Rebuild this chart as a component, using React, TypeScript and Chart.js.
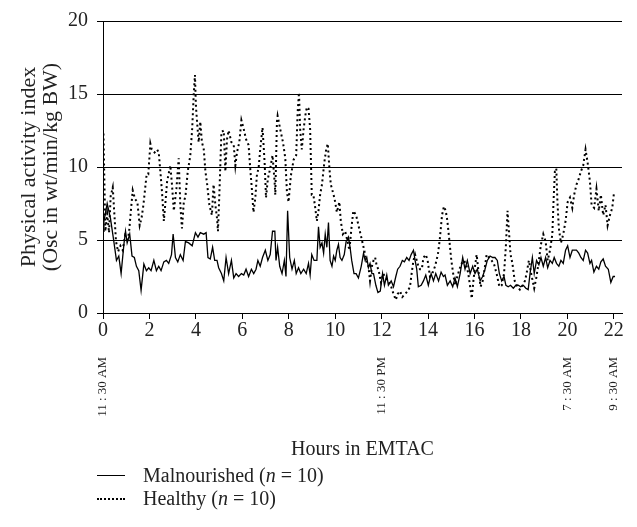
import React, { useEffect, useRef } from "react";
import { Chart, registerables } from "chart.js";

Chart.register(...registerables);

const malHours = [
  0.0, 0.04, 0.18, 0.32, 0.44, 0.58, 0.68, 0.78, 0.9, 0.97, 1.04, 1.15, 1.25, 1.35, 1.44, 1.54, 1.64, 1.76, 1.87, 1.97,
  2.07, 2.19, 2.3, 2.4, 2.5, 2.62, 2.73, 2.83, 2.95, 3.02, 3.12, 3.22, 3.33, 3.45, 3.55, 3.69, 3.84, 3.98, 4.09, 4.19,
  4.34, 4.44, 4.52, 4.62, 4.72, 4.81, 4.91, 4.98, 5.1, 5.2, 5.3, 5.41, 5.53, 5.63, 5.73, 5.84, 5.96, 6.06, 6.16, 6.27,
  6.39, 6.49, 6.59, 6.67, 6.77, 6.87, 6.99, 7.1, 7.2, 7.3, 7.4, 7.45, 7.52, 7.61, 7.71, 7.81, 7.88, 7.95, 8.04, 8.14,
  8.24, 8.32, 8.42, 8.52, 8.64, 8.75, 8.85, 8.92, 8.99, 9.09, 9.21, 9.28, 9.35, 9.43, 9.5, 9.57, 9.64, 9.71, 9.78, 9.86,
  9.93, 10.0, 10.07, 10.14, 10.21, 10.29, 10.39, 10.47, 10.57, 10.64, 10.71, 10.81, 10.9, 11.0, 11.12, 11.22, 11.29, 11.36, 11.43, 11.5,
  11.58, 11.65, 11.75, 11.84, 11.94, 12.04, 12.12, 12.22, 12.29, 12.41, 12.51, 12.61, 12.69, 12.79, 12.89, 12.98, 13.08, 13.18, 13.27, 13.37,
  13.44, 13.51, 13.58, 13.7, 13.8, 13.9, 14.01, 14.13, 14.23, 14.33, 14.45, 14.56, 14.66, 14.73, 14.83, 14.95, 15.06, 15.16, 15.26, 15.38,
  15.49, 15.59, 15.69, 15.81, 15.92, 16.02, 16.12, 16.24, 16.35, 16.45, 16.55, 16.67, 16.78, 16.88, 16.98, 17.07, 17.17, 17.27, 17.35, 17.45,
  17.55, 17.67, 17.78, 17.88, 17.99, 18.1, 18.21, 18.31, 18.39, 18.49, 18.57, 18.67, 18.77, 18.86, 18.96, 19.06, 19.15, 19.25, 19.35, 19.43,
  19.53, 19.63, 19.72, 19.82, 19.92, 20.01, 20.11, 20.21, 20.29, 20.39, 20.49, 20.58, 20.68, 20.78, 20.87, 20.97, 21.04, 21.14, 21.25, 21.35,
  21.44, 21.54, 21.64, 21.76, 21.87, 21.97, 22.05,
];
const malValues = [
  5.6, 6.3, 7.5, 6.5, 5.2, 3.6, 3.9, 2.7, 4.7, 5.6, 4.8, 5.4, 3.9, 3.8, 3.2, 2.9, 1.55, 3.35, 2.9, 3.1,
  2.9, 3.6, 2.9, 3.2, 2.9, 3.5, 3.6, 3.4, 4.0, 5.4, 3.8, 3.5, 4.0, 3.6, 4.9, 4.8, 4.6, 5.5, 5.2, 5.5,
  5.4, 5.5, 3.8, 3.7, 4.5, 3.6, 3.6, 3.1, 2.7, 2.2, 3.8, 2.7, 3.6, 2.4, 2.7, 2.5, 2.7, 2.6, 3.0, 2.5,
  3.0, 2.7, 3.0, 3.6, 3.2, 3.8, 4.3, 3.6, 4.0, 5.6, 5.6, 3.6, 4.5, 3.2, 2.7, 3.6, 2.5, 7.0, 3.8, 3.0,
  3.6, 2.7, 3.1, 2.7, 3.0, 2.7, 3.4, 2.6, 4.0, 3.6, 3.6, 5.9, 4.5, 4.8, 4.1, 5.4, 4.5, 6.2, 3.6, 3.2,
  3.9, 3.6, 4.3, 4.7, 3.8, 3.6, 4.0, 4.9, 5.2, 4.5, 3.6, 2.7, 2.7, 2.4, 3.2, 4.1, 3.6, 3.8, 3.1, 3.4,
  2.7, 2.7, 1.9, 1.4, 1.5, 2.7, 1.9, 2.6, 1.9, 2.2, 1.8, 2.5, 3.0, 3.2, 3.6, 3.5, 3.8, 3.6, 4.0, 4.3,
  3.6, 3.0, 1.8, 1.9, 2.2, 2.6, 1.9, 2.7, 2.2, 2.7, 2.2, 2.8, 2.5, 2.6, 1.9, 2.2, 1.8, 2.4, 1.8, 2.7,
  3.8, 3.0, 3.6, 2.7, 3.2, 2.7, 3.0, 2.2, 2.5, 3.0, 3.6, 3.9, 3.8, 3.8, 3.6, 2.7, 2.2, 2.5, 1.9, 1.8,
  1.9, 1.7, 1.9, 1.9, 1.8, 1.9, 1.7, 1.6, 2.7, 3.8, 2.7, 3.6, 3.3, 3.8, 3.2, 3.8, 3.1, 3.6, 3.4, 3.8,
  3.4, 3.2, 3.6, 3.4, 4.3, 4.6, 3.8, 4.3, 4.3, 4.3, 4.1, 3.8, 3.6, 4.3, 4.1, 3.4, 3.6, 2.8, 3.2, 3.0,
  3.5, 3.7, 3.2, 3.0, 2.1, 2.5, 2.5,
];

const healthyHours = [
  0.02, 0.1, 0.18, 0.26, 0.33, 0.42, 0.5, 0.56, 0.65, 0.75, 0.85, 0.95, 1.05, 1.12, 1.2, 1.28, 1.38, 1.48, 1.58, 1.66,
  1.74, 1.8, 1.88, 1.95, 2.04, 2.1, 2.22, 2.33, 2.4, 2.47, 2.54, 2.62, 2.69, 2.76, 2.9, 2.97, 3.05, 3.16, 3.26, 3.33,
  3.4, 3.48, 3.55, 3.65, 3.76, 3.84, 3.91, 3.96, 4.0, 4.05, 4.12, 4.19, 4.26, 4.34, 4.41, 4.48, 4.58, 4.69, 4.76, 4.84,
  4.91, 4.95, 5.01, 5.1, 5.2, 5.27, 5.34, 5.41, 5.53, 5.63, 5.7, 5.77, 5.87, 5.96, 6.06, 6.16, 6.27, 6.34, 6.41, 6.48,
  6.56, 6.63, 6.7, 6.77, 6.87, 6.96, 7.02, 7.1, 7.2, 7.3, 7.39, 7.42, 7.49, 7.52, 7.63, 7.75, 7.85, 7.92, 7.99, 8.09,
  8.21, 8.32, 8.38, 8.44, 8.49, 8.56, 8.64, 8.71, 8.78, 8.85, 8.92, 8.99, 9.06, 9.14, 9.21, 9.28, 9.35, 9.43, 9.53, 9.61,
  9.68, 9.75, 9.81, 9.93, 10.0, 10.07, 10.18, 10.24, 10.33, 10.43, 10.53, 10.61, 10.71, 10.78, 10.9, 11.03, 11.12, 11.22, 11.29, 11.36,
  11.43, 11.5, 11.58, 11.65, 11.72, 11.79, 11.86, 11.97, 12.07, 12.17, 12.29, 12.41, 12.51, 12.61, 12.69, 12.79, 12.89, 13.01, 13.12, 13.22,
  13.29, 13.37, 13.44, 13.51, 13.58, 13.65, 13.73, 13.8, 13.9, 13.98, 14.08, 14.18, 14.3, 14.42, 14.5, 14.6, 14.68, 14.76, 14.83, 14.92,
  15.0, 15.08, 15.16, 15.26, 15.35, 15.45, 15.55, 15.66, 15.73, 15.81, 15.88, 15.95, 16.02, 16.09, 16.16, 16.26, 16.35, 16.45, 16.52, 16.63,
  16.73, 16.83, 16.95, 17.07, 17.17, 17.27, 17.35, 17.42, 17.49, 17.55, 17.63, 17.73, 17.84, 17.95, 18.07, 18.17, 18.24, 18.34, 18.45, 18.57,
  18.67, 18.77, 18.86, 18.96, 19.06, 19.15, 19.25, 19.35, 19.4, 19.46, 19.52, 19.57, 19.63, 19.72, 19.82, 19.92, 20.01, 20.11, 20.21, 20.29,
  20.39, 20.49, 20.58, 20.68, 20.78, 20.87, 20.97, 21.04, 21.15, 21.25, 21.35, 21.44, 21.54, 21.64, 21.73, 21.83, 21.93, 22.01,
];
const healthyValues = [
  12.3, 5.6, 6.8, 5.5, 8.0, 8.6, 6.5, 4.9, 4.2, 4.6, 4.3, 5.3, 5.0, 5.5, 7.0, 8.4, 7.8, 7.6, 6.0, 6.5,
  7.4, 8.3, 9.5, 9.5, 11.6, 11.2, 11.0, 11.2, 11.0, 9.7, 8.3, 6.3, 7.6, 9.0, 10.1, 8.8, 7.0, 8.5, 10.6, 7.4,
  5.8, 7.6, 8.0, 9.7, 10.8, 12.6, 15.1, 16.3, 14.2, 13.1, 11.7, 13.1, 11.7, 11.2, 9.7, 8.9, 7.4, 6.7, 8.8, 7.4,
  6.5, 5.6, 8.1, 12.4, 12.5, 9.7, 11.9, 12.5, 11.7, 11.5, 10.1, 11.0, 11.7, 13.2, 12.6, 11.9, 11.5, 9.9, 8.5, 6.9,
  7.9, 9.5, 9.9, 11.2, 12.7, 10.3, 7.9, 9.2, 9.9, 10.8, 9.0, 8.1, 13.1, 13.5, 12.6, 11.7, 10.6, 8.3, 7.6, 9.4,
  10.5, 10.8, 13.7, 15.1, 12.6, 11.2, 12.6, 13.5, 14.1, 14.0, 12.6, 8.1, 8.1, 7.2, 6.3, 7.0, 8.1, 8.8, 10.3, 11.2,
  11.6, 9.9, 8.8, 8.1, 7.6, 6.9, 7.6, 6.3, 5.4, 5.6, 4.9, 4.3, 6.0, 7.0, 6.7, 5.8, 5.2, 4.5, 4.0, 3.4,
  3.2, 2.2, 3.2, 3.6, 3.8, 3.2, 3.0, 2.1, 2.7, 2.4, 2.2, 1.8, 1.3, 0.9, 1.3, 1.5, 1.1, 1.3, 1.5, 1.8,
  2.7, 3.6, 4.0, 3.6, 3.2, 3.0, 3.0, 3.8, 4.0, 3.6, 2.5, 2.7, 3.2, 4.0, 5.0, 6.7, 7.3, 7.0, 6.3, 4.9,
  3.6, 2.7, 1.9, 2.5, 3.0, 3.4, 3.6, 3.2, 2.7, 1.8, 1.0, 2.2, 3.2, 4.0, 3.0, 1.8, 2.2, 3.2, 4.0, 3.8,
  3.6, 3.4, 2.7, 1.8, 1.9, 2.7, 4.6, 7.0, 5.4, 4.0, 3.4, 2.2, 1.8, 1.6, 1.9, 2.2, 2.7, 3.6, 2.6, 1.7,
  2.5, 3.6, 4.7, 5.4, 4.9, 3.6, 4.3, 5.4, 7.6, 9.7, 9.9, 7.6, 5.8, 4.8, 5.4, 6.3, 7.6, 7.9, 7.2, 8.1,
  8.8, 9.2, 9.7, 10.1, 11.2, 10.3, 9.0, 7.4, 7.2, 8.5, 7.0, 8.1, 6.7, 7.4, 6.0, 6.7, 7.2, 8.3,
];

const xTicksStep = 2;
const yTicksStep = 5;
const clockHours = [0, 12, 20, 22];
const clockLabels = ["11 : 30 AM", "11 : 30 PM", "7 : 30 AM", "9 : 30 AM"];
const seriesNames = ["Malnourished", "Healthy"];
const yTitle = ["Physical activity index", "(Osc in wt/min/kg BW)"];
const xTitle = "Hours in EMTAC";

const SERIF = '"Liberation Serif", "Times New Roman", serif';

export default function App() {
  const ref = useRef<HTMLCanvasElement | null>(null);

  useEffect(() => {
    if (!ref.current) return;
    const clockPlugin = {
      id: "clockLabels",
      afterDraw(chart: any) {
        const xs = chart.scales.x;
        const ctx = chart.ctx;
        ctx.save();
        ctx.fillStyle = "#222";
        ctx.font = `13px ${SERIF}`;
        ctx.textAlign = "right";
        ctx.textBaseline = "middle";
        clockHours.forEach((h, i) => {
          ctx.save();
          ctx.translate(xs.getPixelForValue(h), 357);
          ctx.rotate(-Math.PI / 2);
          ctx.fillText(clockLabels[i], 0, 0);
          ctx.restore();
        });
        ctx.restore();
      },
    };
    const chart = new Chart(ref.current, {
      type: "line",
      data: {
        datasets: [
          {
            label: seriesNames[0],
            data: malHours.map((h, i) => ({ x: h, y: malValues[i] })),
            borderColor: "#000",
            borderWidth: 1.3,
            pointRadius: 0,
            tension: 0,
          },
          {
            label: seriesNames[1],
            data: healthyHours.map((h, i) => ({ x: h, y: healthyValues[i] })),
            borderColor: "#000",
            borderWidth: 2,
            borderDash: [2, 3],
            pointRadius: 0,
            tension: 0,
          },
        ],
      },
      options: {
        animation: false,
        responsive: false,
        layout: { padding: { left: 0, top: 17, right: 15, bottom: 64 } },
        plugins: { legend: { display: false }, tooltip: { enabled: false } },
        scales: {
          x: {
            type: "linear",
            min: 0,
            max: 22.35,
            afterFit: (s: any) => {
              s.height = 150;
            },
            ticks: {
              stepSize: xTicksStep,
              includeBounds: false,
              color: "#222",
              padding: 0,
              font: { family: SERIF, size: 20 },
            },
            grid: { drawOnChartArea: false, drawTicks: true, tickLength: 6, color: "#000" },
            border: { color: "#000", width: 1 },
            title: {
              display: true,
              text: xTitle,
              color: "#222",
              font: { family: SERIF, size: 20, lineHeight: 1.2 },
              padding: { top: 0, bottom: 1 },
            },
          },
          y: {
            min: 0,
            max: 20,
            afterFit: (s: any) => {
              s.width = 103;
            },
            ticks: {
              stepSize: yTicksStep,
              color: "#222",
              padding: 9,
              font: { family: SERIF, size: 20 },
            },
            grid: { color: "#000", lineWidth: 1, drawTicks: true, tickLength: 6 },
            border: { color: "#000", width: 1 },
            title: {
              display: true,
              text: yTitle,
              color: "#222",
              font: { family: SERIF, size: 22, lineHeight: 1.0 },
              padding: { top: 18, bottom: 0 },
            },
          },
        },
      },
      plugins: [clockPlugin],
    });
    return () => chart.destroy();
  }, []);

  const legendText: React.CSSProperties = {
    position: "absolute",
    left: 143,
    fontFamily: SERIF,
    fontSize: 20,
    color: "#222",
    lineHeight: "22px",
    whiteSpace: "nowrap",
  };

  return (
    <div style={{ position: "fixed", left: 0, top: 0, width: 637, height: 527, background: "#fff" }}>
      <canvas ref={ref} width={637} height={527} style={{ width: 637, height: 527, display: "block" }} />
      <div style={{ position: "absolute", left: 97, top: 475, width: 28, borderTop: "1.4px solid #000" }} />
      <div style={{ ...legendText, top: 464 }}>
        {seriesNames[0]} (<i>n</i> = 10)
      </div>
      <div style={{ position: "absolute", left: 97, top: 498, width: 28, borderTop: "2px dotted #000" }} />
      <div style={{ ...legendText, top: 487 }}>
        {seriesNames[1]} (<i>n</i> = 10)
      </div>
    </div>
  );
}
